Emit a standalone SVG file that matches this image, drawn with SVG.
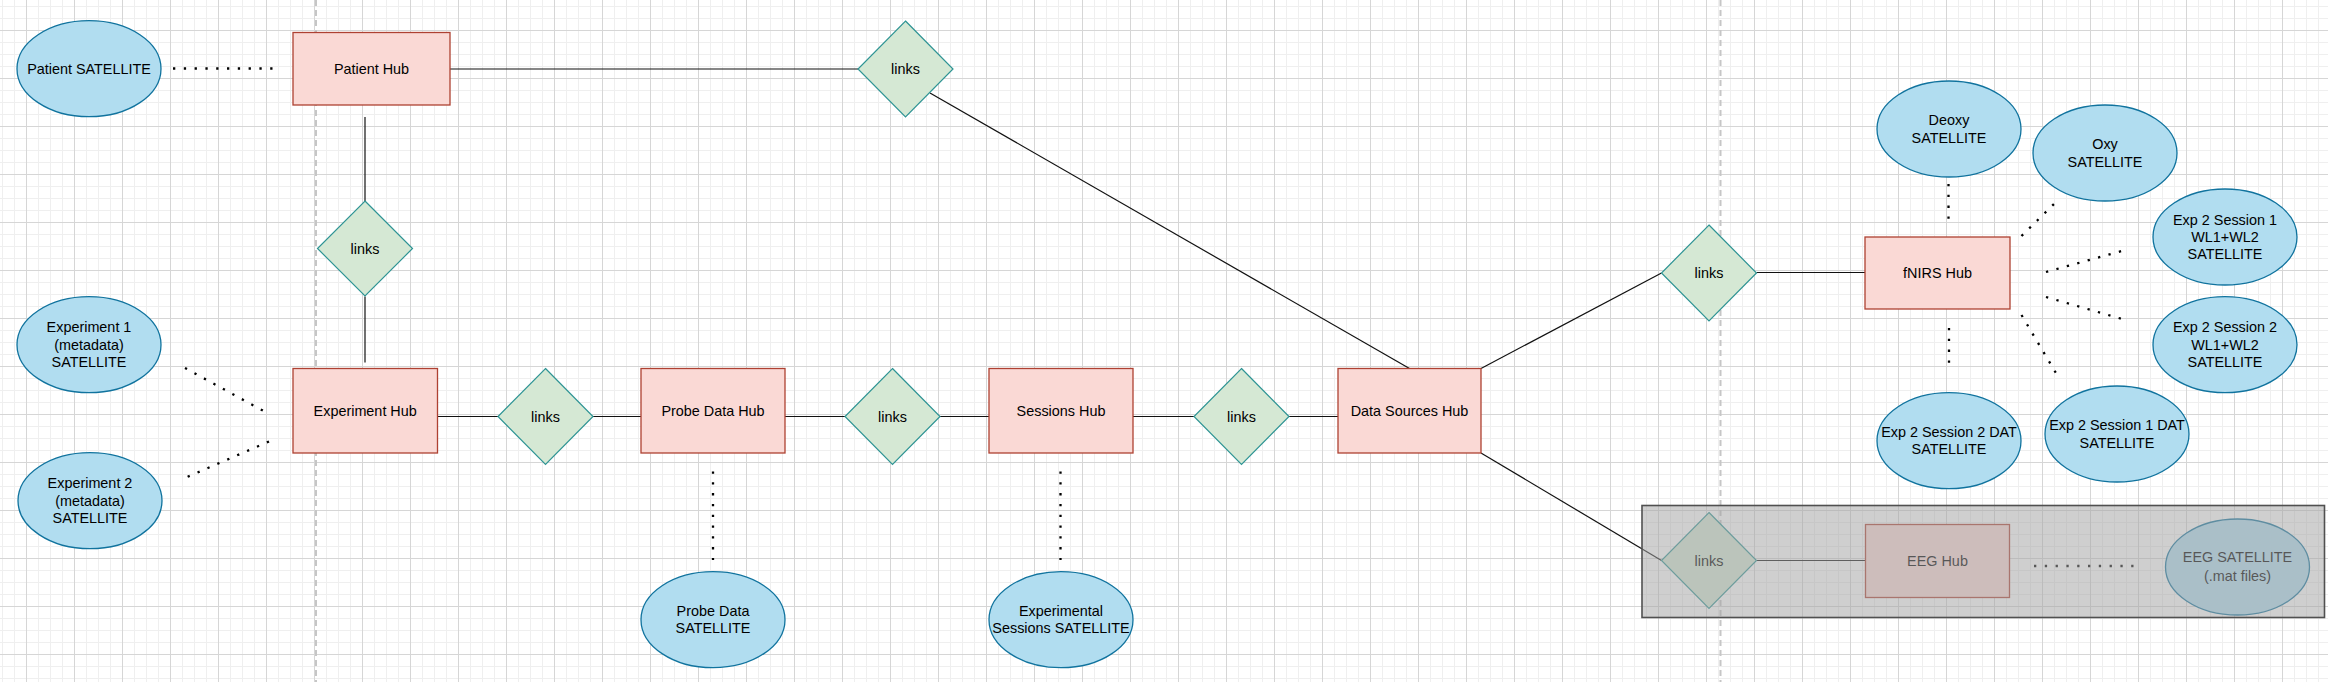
<svg xmlns="http://www.w3.org/2000/svg" width="2328" height="682" viewBox="0 0 2328 682">
<defs>
<pattern id="minor" width="12" height="12" patternUnits="userSpaceOnUse" x="26" y="30"><path d="M0.5 0V12M0 0.5H12" stroke="#efefef" stroke-width="1" fill="none"/></pattern>
<pattern id="major" width="48" height="48" patternUnits="userSpaceOnUse" x="26" y="30"><path d="M0.5 0V48M0 0.5H48" stroke="#d6d6d6" stroke-width="1" fill="none"/></pattern>
<style>
.hub{fill:#fad9d5;stroke:#ae4132;stroke-width:1.3}
.sat{fill:#b1ddf0;stroke:#10739e;stroke-width:1.3}
.lnk{fill:#d5e8d4;stroke:#2e9494;stroke-width:1.2}
.con{fill:none;stroke:#111;stroke-width:1.2}
.dot{fill:none;stroke:#000;stroke-width:2.3;stroke-dasharray:2.3 8.5}
.page{fill:none;stroke:#c6c6c6;stroke-width:2;stroke-dasharray:6 4}
text{font-family:"Liberation Sans",Arial,Helvetica,sans-serif;font-size:14.4px;fill:#000;text-anchor:middle}
</style>
</defs>
<rect width="2328" height="682" fill="#ffffff"/>
<rect width="2328" height="682" fill="url(#minor)"/>
<rect width="2328" height="682" fill="url(#major)"/>
<path class="page" d="M316 0V682M1720.5 0V682"/>

<g id="connectors">
<path class="con" d="M450 69H858"/>
<path class="con" d="M930 93L1409.5 368.5"/>
<path class="con" d="M365 117V201"/>
<path class="con" d="M365 296.5V362.5"/>
<path class="con" d="M437.5 416.5H498"/>
<path class="con" d="M593 416.5H641"/>
<path class="con" d="M785 416.5H845"/>
<path class="con" d="M940 416.5H989"/>
<path class="con" d="M1133 416.5H1194"/>
<path class="con" d="M1289 416.5H1338"/>
<path class="con" d="M1481 368.5L1661.5 273"/>
<path class="con" d="M1756.5 272.5H1865"/>
<path class="con" d="M1481 453L1661.5 560.5"/>
<path class="con" d="M1756.5 560.5H1865.5"/>
<path class="dot" d="M173 68.5H281"/>
<path class="dot" d="M185 368L269 414"/>
<path class="dot" d="M269 441.5L186 477.5"/>
<path class="dot" d="M713 471.5V560"/>
<path class="dot" d="M1060.5 471.5V560"/>
<path class="dot" d="M1948.5 184V224"/>
<path class="dot" d="M2021.5 236L2056.5 201.5"/>
<path class="dot" d="M2046 272L2129 249"/>
<path class="dot" d="M2046 297L2129 321"/>
<path class="dot" d="M2021.5 315L2056.5 374"/>
<path class="dot" d="M1949 328V368"/>
<path class="dot" d="M2034 566H2141"/>
</g>

<g id="patient-satellite"><ellipse class="sat" cx="89" cy="68.7" rx="72" ry="48"/><text x="89" y="73.7">Patient SATELLITE</text></g>
<g id="patient-hub"><rect class="hub" x="293" y="32.5" width="157" height="72.5"/><text x="371.5" y="73.7">Patient Hub</text></g>
<g id="links-top"><polygon class="lnk" points="905.5,21 953,69 905.5,117 858,69"/><text x="905.5" y="74">links</text></g>
<g id="links-patient-experiment"><polygon class="lnk" points="365,201 412.5,248.5 365,296 317.5,248.5"/><text x="365" y="253.5">links</text></g>

<g id="experiment1-satellite"><ellipse class="sat" cx="89" cy="344.7" rx="72" ry="48"/><text x="89" y="332.4">Experiment 1</text><text x="89" y="349.7">(metadata)</text><text x="89" y="367">SATELLITE</text></g>
<g id="experiment2-satellite"><ellipse class="sat" cx="90" cy="500.7" rx="72" ry="48"/><text x="90" y="488.4">Experiment 2</text><text x="90" y="505.7">(metadata)</text><text x="90" y="523">SATELLITE</text></g>

<g id="experiment-hub"><rect class="hub" x="293" y="368.5" width="144.5" height="84.5"/><text x="365.2" y="415.7">Experiment Hub</text></g>
<g id="links-1"><polygon class="lnk" points="545.5,368.5 593,416.5 545.5,464.5 498,416.5"/><text x="545.5" y="421.5">links</text></g>
<g id="probe-data-hub"><rect class="hub" x="641" y="368.5" width="144" height="84.5"/><text x="713" y="415.7">Probe Data Hub</text></g>
<g id="links-2"><polygon class="lnk" points="892.5,368.5 940,416.5 892.5,464.5 845,416.5"/><text x="892.5" y="421.5">links</text></g>
<g id="sessions-hub"><rect class="hub" x="989" y="368.5" width="144" height="84.5"/><text x="1061" y="415.7">Sessions Hub</text></g>
<g id="links-3"><polygon class="lnk" points="1241.5,368.5 1289,416.5 1241.5,464.5 1194,416.5"/><text x="1241.5" y="421.5">links</text></g>
<g id="data-sources-hub"><rect class="hub" x="1338" y="368.5" width="143" height="84.5"/><text x="1409.5" y="415.7">Data Sources Hub</text></g>

<g id="probe-data-satellite"><ellipse class="sat" cx="713" cy="619.7" rx="72" ry="48"/><text x="713" y="616">Probe Data</text><text x="713" y="633.3">SATELLITE</text></g>
<g id="experimental-sessions-satellite"><ellipse class="sat" cx="1061" cy="619.7" rx="72" ry="48"/><text x="1061" y="616">Experimental</text><text x="1061" y="633.3">Sessions SATELLITE</text></g>

<g id="links-fnirs"><polygon class="lnk" points="1709,225 1756.5,273 1709,321 1661.5,273"/><text x="1709" y="278">links</text></g>
<g id="fnirs-hub"><rect class="hub" x="1865" y="237" width="145" height="72"/><text x="1937.5" y="278">fNIRS Hub</text></g>
<g id="deoxy-satellite"><ellipse class="sat" cx="1949" cy="129" rx="72" ry="48"/><text x="1949" y="125.3">Deoxy</text><text x="1949" y="142.6">SATELLITE</text></g>
<g id="oxy-satellite"><ellipse class="sat" cx="2105" cy="153" rx="72" ry="48"/><text x="2105" y="149.3">Oxy</text><text x="2105" y="166.6">SATELLITE</text></g>
<g id="exp2-s1-wl-satellite"><ellipse class="sat" cx="2225" cy="237" rx="72" ry="48"/><text x="2225" y="224.7">Exp 2 Session 1</text><text x="2225" y="242">WL1+WL2</text><text x="2225" y="259.3">SATELLITE</text></g>
<g id="exp2-s2-wl-satellite"><ellipse class="sat" cx="2225" cy="344.7" rx="72" ry="48"/><text x="2225" y="332.4">Exp 2 Session 2</text><text x="2225" y="349.7">WL1+WL2</text><text x="2225" y="367">SATELLITE</text></g>
<g id="exp2-s2-dat-satellite"><ellipse class="sat" cx="1949" cy="440.7" rx="72" ry="48"/><text x="1949" y="437">Exp 2 Session 2 DAT</text><text x="1949" y="454.3">SATELLITE</text></g>
<g id="exp2-s1-dat-satellite"><ellipse class="sat" cx="2117" cy="434" rx="72" ry="48"/><text x="2117" y="430.3">Exp 2 Session 1 DAT</text><text x="2117" y="447.6">SATELLITE</text></g>

<g id="links-eeg"><polygon class="lnk" points="1709,512.5 1756.5,560.5 1709,608.5 1661.5,560.5"/><text x="1709" y="565.5">links</text></g>
<g id="eeg-hub"><rect class="hub" x="1865.5" y="524.5" width="144" height="73"/><text x="1937.5" y="566">EEG Hub</text></g>
<g id="eeg-satellite"><ellipse class="sat" cx="2237.5" cy="567" rx="72" ry="48"/><text x="2237.5" y="562.3">EEG SATELLITE</text><text x="2237.5" y="580.6">(.mat files)</text></g>

<g id="eeg-disabled-box"><rect x="1642" y="505.5" width="682.5" height="112" fill="#a5a5a5" fill-opacity="0.53" stroke="#505050" stroke-width="1.6"/></g>
</svg>
